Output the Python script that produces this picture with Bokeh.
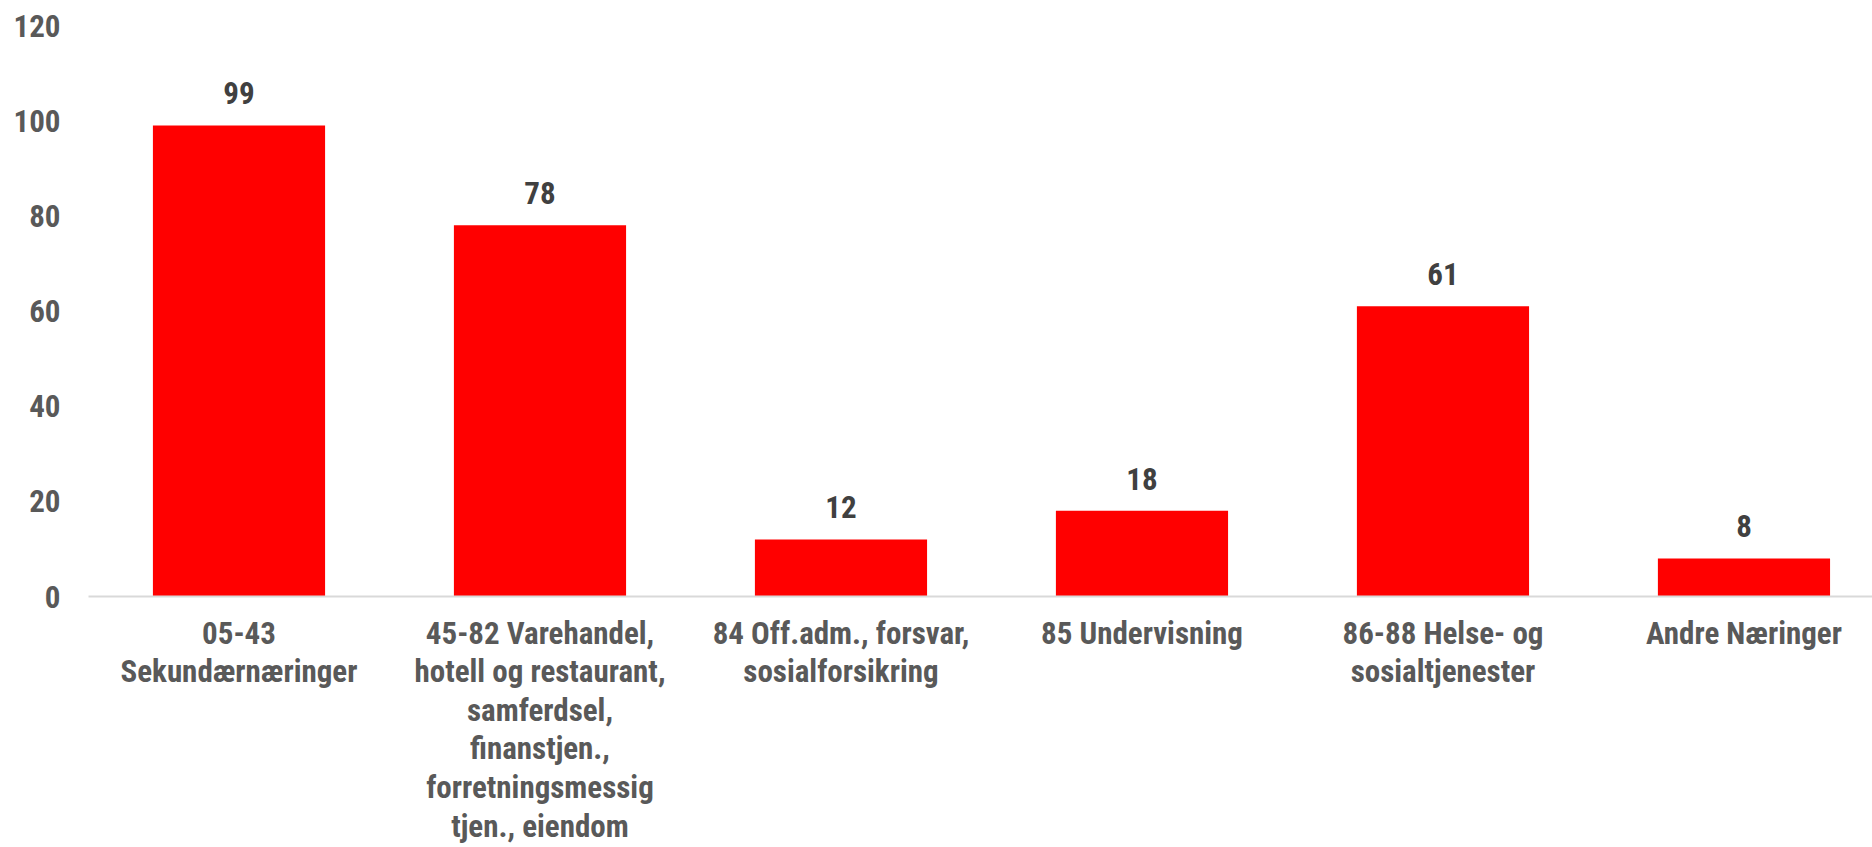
from bokeh.plotting import figure
from bokeh.models import ColumnDataSource, LabelSet, FixedTicker
from bokeh.core.properties import value
from bokeh.embed import file_html
from bokeh.resources import INLINE

categories = [
    "05-43\nSekundærnæringer",
    "45-82 Varehandel,\nhotell og restaurant,\nsamferdsel,\nfinanstjen.,\nforretningsmessig\ntjen., eiendom",
    "84 Off.adm., forsvar,\nsosialforsikring",
    "85 Undervisning",
    "86-88 Helse- og\nsosialtjenester",
    "Andre Næringer",
]
values = [99, 78, 12, 18, 61, 8]
y_ticks = [0, 20, 40, 60, 80, 100, 120]

FONT = "Roboto Condensed"

xs = list(range(len(categories)))
src = ColumnDataSource(dict(x=xs, top=values, label=[str(v) for v in values]))

p = figure(width=1872, height=847, output_backend="svg", toolbar_location=None,
           x_range=(-0.5, 5.427), y_range=(0, 120))
p.min_border_left = 88
p.min_border_right = 0
p.min_border_top = 25
p.min_border_bottom = 10
p.outline_line_color = None
p.background_fill_color = "white"
p.border_fill_color = "white"
p.xgrid.grid_line_color = None
p.ygrid.grid_line_color = None

p.vbar(x="x", top="top", width=0.572, bottom=0, source=src,
       fill_color="#FF0000", line_color=None)

labels = LabelSet(x="x", y="top", text="label", source=src, y_offset=32,
                  text_align="center", text_baseline="middle",
                  text_font=value(FONT), text_font_style="bold",
                  text_font_size="31px", text_color="#404040")
p.add_layout(labels)

xa = p.xaxis[0]
xa.ticker = FixedTicker(ticks=xs)
xa.major_label_overrides = {i: c for i, c in zip(xs, categories)}
xa.axis_line_color = "#D9D9D9"
xa.axis_line_width = 2
xa.major_tick_line_color = None
xa.minor_tick_line_color = None
xa.major_tick_out = 0
xa.major_tick_in = 0
xa.minor_tick_out = 0
xa.minor_tick_in = 0
xa.major_label_standoff = 18
xa.major_label_text_font = FONT
xa.major_label_text_font_style = "bold"
xa.major_label_text_font_size = "31px"
xa.major_label_text_line_height = 1.045
xa.major_label_text_color = "#595959"
xa.major_label_orientation = "horizontal"

ya = p.yaxis[0]
ya.ticker = FixedTicker(ticks=y_ticks)
ya.axis_line_color = None
ya.major_tick_line_color = None
ya.minor_tick_line_color = None
ya.major_tick_out = 0
ya.major_tick_in = 0
ya.minor_tick_out = 0
ya.minor_tick_in = 0
ya.major_label_standoff = 28
ya.major_label_text_font = FONT
ya.major_label_text_font_style = "bold"
ya.major_label_text_font_size = "31px"
ya.major_label_text_color = "#595959"

open("out.html", "w").write(file_html(p, INLINE))
